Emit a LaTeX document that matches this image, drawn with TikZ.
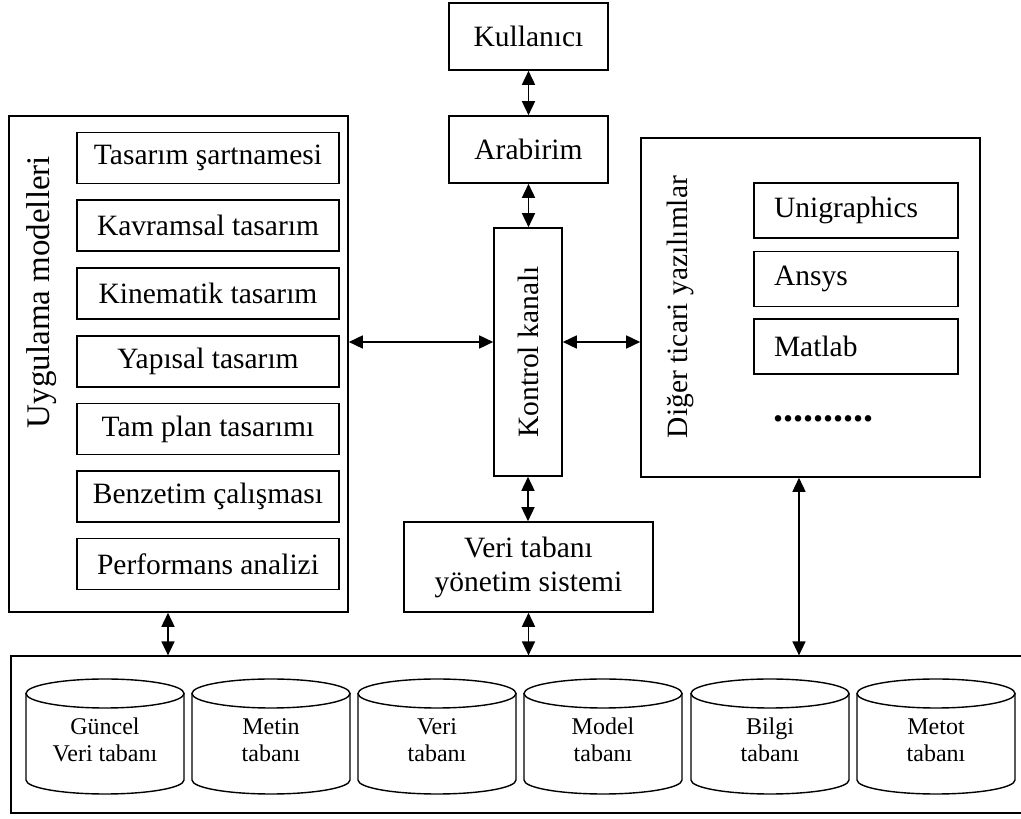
\documentclass[tikz,border=0pt]{standalone}
\usepackage{fontspec}
\setmainfont{Liberation Serif}
\usetikzlibrary{arrows.meta}
\begin{document}
\begin{tikzpicture}[x=1pt,y=1pt,
  font=\fontsize{29.5}{34}\selectfont,
  box/.style={draw, line width=1.6pt, inner sep=0pt, align=center},
  sub/.style={box, minimum width=262, minimum height=51},
  tool/.style={box, minimum width=204, minimum height=55, text width=164, align=left, inner xsep=20},
  arr/.style={{Triangle[length=14pt,width=13pt]}-{Triangle[length=14pt,width=13pt]}, line width=1.6pt},
  cylline/.style={line width=1.4pt},
  cyltext/.style={font=\fontsize{24}{27}\selectfont, align=center}
]
\fill[white] (0,0) rectangle (1021,819);
\useasboundingbox (0,0) rectangle (1021,819);

% central column
\node[box, minimum width=159, minimum height=67] (kul) at (528.5,782.5) {Kullanıcı};
\node[box, minimum width=159, minimum height=67] (arab) at (528.5,669.5) {Arabirim};
\node[box, minimum width=68, minimum height=248] (kontrol) at (528,467) {};
\node[rotate=90] (kontroltext) at (kontrol.center) {Kontrol kanalı};
\node[box, minimum width=249, minimum height=90] (vtys) at (528.5,252) {Veri tabanı\\yönetim sistemi};

% application models
\node[box, minimum width=339, minimum height=496] (uyg) at (178.5,455) {};
\node[rotate=90, font=\fontsize{33}{33}\selectfont] (uygtext) at (42,527) {Uygulama modelleri};
\node[sub] (m1) at (208,661)   {Tasarım şartnamesi};
\node[sub] (m2) at (208,593.5) {Kavramsal tasarım};
\node[sub] (m3) at (208,525.5) {Kinematik tasarım};
\node[sub] (m4) at (208,457.5) {Yapısal tasarım};
\node[sub] (m5) at (208,390)   {Tam plan tasarımı};
\node[sub] (m6) at (208,322.5) {Benzetim çalışması};
\node[sub] (m7) at (208,255)   {Performans analizi};

% other commercial software
\node[box, minimum width=339, minimum height=339] (diger) at (810.5,511.5) {};
\node[rotate=90] (digertext) at (680,512) {Diğer ticari yazılımlar};
\node[tool] (t1) at (856,608.5) {Unigraphics};
\node[tool] (t2) at (856,540)   {Ansys};
\node[tool] (t3) at (856,472.5) {Matlab};
\node[anchor=base west, inner sep=0pt, font=\fontsize{40}{40}\selectfont\bfseries] (dots) at (773,397) {..........};

% databases (the frame runs past the right edge)
\node[box, minimum width=1040, minimum height=157, anchor=south west] (db) at (10,5) {};
\foreach \l/\n/\t in {26/c1/{Güncel\\Veri tabanı}, 192/c2/{Metin\\tabanı}, 358/c3/{Veri\\tabanı},
                      524/c4/{Model\\tabanı}, 691/c5/{Bilgi\\tabanı}, 857/c6/{Metot\\tabanı}} {
  \draw[cylline] (\l+79,125.5) ellipse[x radius=79, y radius=14.5];
  \draw[cylline] (\l,125.5) -- (\l,39) arc[start angle=180, end angle=360, x radius=79, y radius=14] -- (\l+158,125.5);
  \node[cyltext] (\n) at (\l+79,79) {\t};
}

% connectors
\coordinate (hy) at (0,477);
\coordinate (lx) at (168,0);
\coordinate (rx) at (799,0);
\draw[arr] (kul.south) -- (arab.north);
\draw[arr] (arab.south) -- (arab.south |- kontrol.north);
\draw[arr] (kontrol.south) -- (kontrol.south |- vtys.north);
\draw[arr] (vtys.south) -- (vtys.south |- db.north);
\draw[arr] (uyg.east |- hy) -- (kontrol.west |- hy);
\draw[arr] (kontrol.east |- hy) -- (diger.west |- hy);
\draw[arr] (lx |- uyg.south) -- (lx |- db.north);
\draw[arr] (rx |- diger.south) -- (rx |- db.north);
\end{tikzpicture}
\end{document}
